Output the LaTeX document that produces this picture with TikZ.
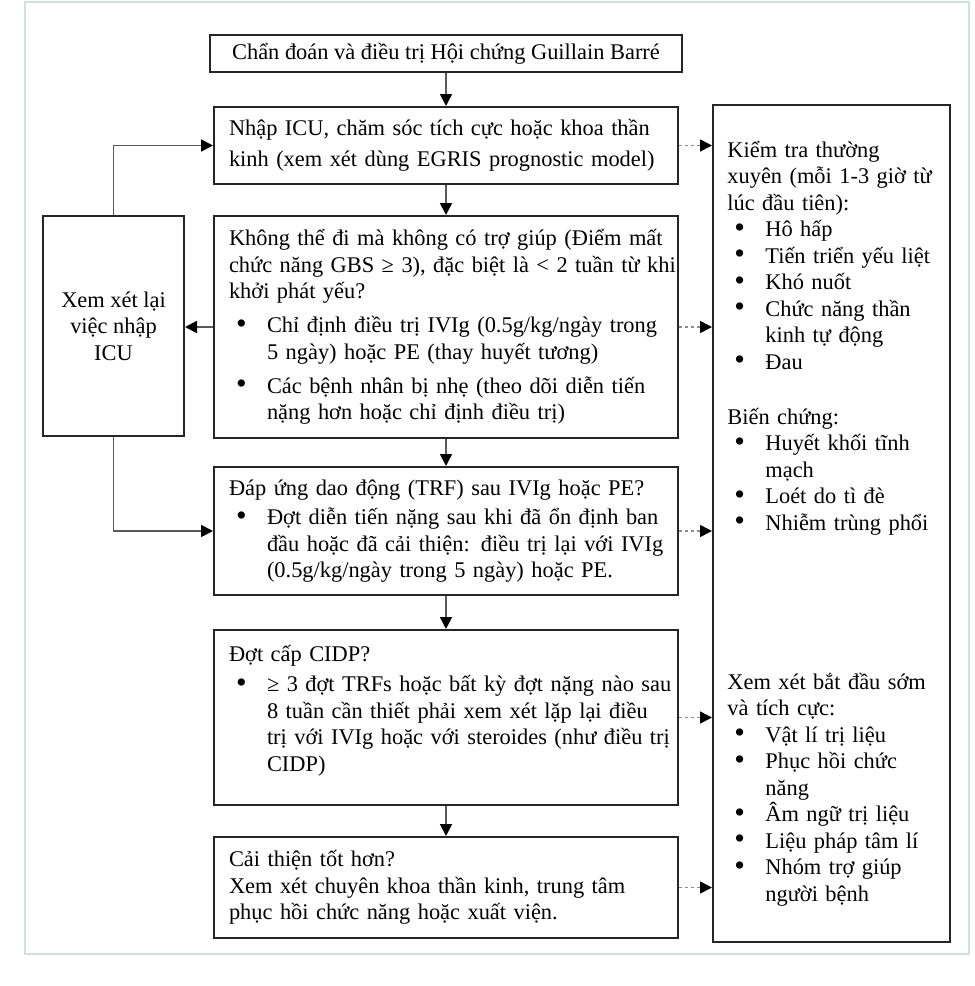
\documentclass[tikz,border=0pt]{standalone}
\usepackage{fontspec}
\setmainfont{Liberation Serif}
\usetikzlibrary{arrows.meta}

\definecolor{framegreen}{HTML}{CFE3DC}

% one line of a bullet item, and its continuation lines
\newcommand{\bdot}{\raisebox{-0.4pt}{\scalebox{1.35}{\textbullet}}}
\newcommand{\bpt}[1]{\mbox{\makebox[19pt][l]{\hspace{3.5pt}\bdot}#1}}
\newcommand{\bnext}[1]{\mbox{\hspace{19pt}#1}}

\begin{document}
\begin{tikzpicture}[x=0.5pt, y=-0.5pt,
    every node/.style={font=\fontsize{11.2}{13.25}\selectfont},
    box/.style={draw=black!85, line width=1pt, inner xsep=7.5pt, inner ysep=2pt, align=left},
    mainbox/.style={box, text width=217pt, minimum width=232pt},
    arr/.style={draw=black!65, line width=0.9pt, -{Triangle[length=6pt, width=6pt, color=black]}},
    dotarr/.style={draw=black!45, line width=0.8pt, dash pattern=on 1.5pt off 1.5pt, -{Triangle[length=6pt, width=6pt, color=black]}},
    sidetext/.style={anchor=base west, inner sep=0pt, text width=112pt, align=left}]

  \useasboundingbox (0,0) rectangle (975,986);
  \draw[framegreen, line width=1.3pt] (25,2) rectangle (969,954);

  % main column
  \node[box, minimum width=236pt, minimum height=18.5pt] (title) at (446,53.5)
    {Chẩn đoán và điều trị Hội chứng Guillain Barré};

  \node[mainbox, minimum height=38.5pt] (admit) at (446,145.5)
    {\mbox{Nhập ICU, chăm sóc tích cực hoặc khoa thần}\\[2.3pt]
     \mbox{kinh (xem xét dùng EGRIS prognostic model)}};

  \node[mainbox, minimum height=111pt] (walk) at (446,327)
    {\mbox{Không thể đi mà không có trợ giúp (Điểm mất}\\
     \mbox{chức năng GBS ≥ 3), đặc biệt là < 2 tuần từ khi}\\
     \mbox{khởi phát yếu?}\\[3.7pt]
     \bpt{Chỉ định điều trị IVIg (0.5g/kg/ngày trong}\\
     \bnext{5 ngày) hoặc PE (thay huyết tương)}\\[3.7pt]
     \bpt{Các bệnh nhân bị nhẹ (theo dõi diễn tiến}\\
     \bnext{nặng hơn hoặc chỉ định điều trị)}};

  \node[mainbox, minimum height=64pt] (trf) at (446,531)
    {\mbox{Đáp ứng dao động (TRF) sau IVIg hoặc PE?}\\[1.5pt]
     \bpt{Đợt diễn tiến nặng sau khi đã ổn định ban}\\
     \bnext{đầu hoặc đã cải thiện: điều trị lại với IVIg}\\
     \bnext{(0.5g/kg/ngày trong 5 ngày) hoặc PE.}};

  \node[mainbox, minimum height=87.5pt] (cidp) at (446,717.5)
    {\mbox{Đợt cấp CIDP?}\\[1.7pt]
     \bpt{≥ 3 đợt TRFs hoặc bất kỳ đợt nặng nào sau}\\
     \bnext{8 tuần cần thiết phải xem xét lặp lại điều}\\
     \bnext{trị với IVIg hoặc với steroides (như điều trị}\\
     \bnext{CIDP)\rule[-9pt]{0pt}{0pt}}};

  \node[mainbox, minimum height=50.5pt] (better) at (446,887.5)
    {\mbox{Cải thiện tốt hơn?}\\
     \mbox{Xem xét chuyên khoa thần kinh, trung tâm}\\
     \mbox{phục hồi chức năng hoặc xuất viện.}};

  % left and right columns
  \node[box, align=center, minimum width=70.5pt, minimum height=110pt] (review) at (113.5,326)
    {Xem xét lại\\việc nhập\\ICU};

  \node[box, minimum width=118.5pt, minimum height=418.5pt] (side) at (831.5,523.5) {};

  \node[sidetext] (check) at (727,157)
    {\mbox{Kiểm tra thường}\\
     \mbox{xuyên (mỗi 1-3 giờ từ}\\
     \mbox{lúc đầu tiên):}\\
     \bpt{Hô hấp}\\
     \bpt{Tiến triển yếu liệt}\\
     \bpt{Khó nuốt}\\
     \bpt{Chức năng thần}\\
     \bnext{kinh tự động}\\
     \bpt{Đau}};

  \node[sidetext] (compl) at (727,424)
    {\mbox{Biến chứng:}\\
     \bpt{Huyết khối tĩnh}\\
     \bnext{mạch}\\
     \bpt{Loét do tì đè}\\
     \bpt{Nhiễm trùng phổi}};

  \node[sidetext] (rehab) at (727,689)
    {\mbox{Xem xét bắt đầu sớm}\\
     \mbox{và tích cực:}\\
     \bpt{Vật lí trị liệu}\\
     \bpt{Phục hồi chức}\\
     \bnext{năng}\\
     \bpt{Âm ngữ trị liệu}\\
     \bpt{Liệu pháp tâm lí}\\
     \bpt{Nhóm trợ giúp}\\
     \bnext{người bệnh}};

  % connectors
  \draw[arr] (title.south) -- (admit.north);
  \draw[arr] (admit.south) -- (walk.north);
  \draw[arr] (walk.south) -- (trf.north);
  \draw[arr] (trf.south) -- (cidp.north);
  \draw[arr] (cidp.south) -- (better.north);

  \draw[arr] (review.north) |- (admit.west);
  \draw[arr] (walk.west) -- (walk.west -| review.east);
  \draw[arr] (review.south) |- (trf.west);

  \foreach \b in {admit,walk,trf,cidp,better}
    \draw[dotarr] (\b.east) -- (\b.east -| side.west);

\end{tikzpicture}
\end{document}
